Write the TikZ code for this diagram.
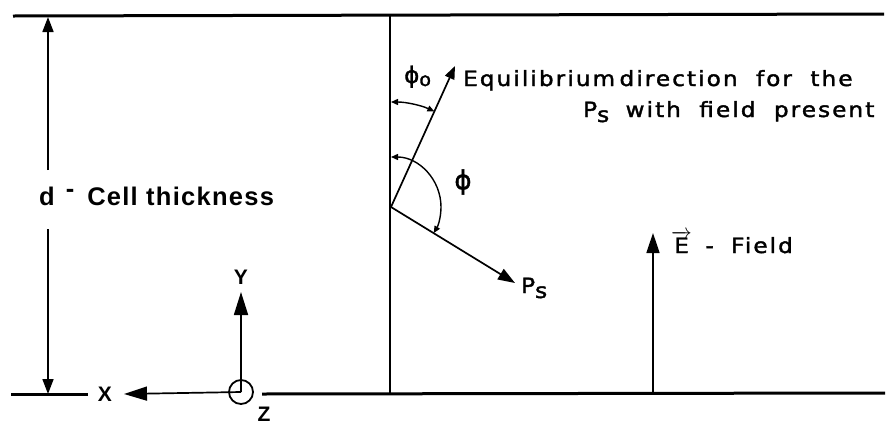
\documentclass[tikz,border=0pt]{standalone}
\usepackage{fontspec}
\setmainfont{Liberation Sans}
\newfontfamily\greekfont[FakeBold=1.5]{DejaVu Sans}
\newfontfamily\boldspaced[LetterSpace=5]{Liberation Sans Bold}
\newfontfamily\letterfont[LetterSpace=10,FakeStretch=1.1,FakeBold=1.8]{DejaVu Sans}
\usetikzlibrary{arrows.meta,calc}
\newcommand{\subs}{\raisebox{-5pt}{s}}
\begin{document}
\begin{tikzpicture}[x=1pt,y=-1pt,
  plate/.style={line width=3pt},
  thinln/.style={line width=1.7pt},
  axtip/.style={-{Triangle[length=23pt,width=14pt]}},
  eqtip/.style={-{Triangle[length=13pt,width=10pt]}},
  pstip/.style={-{Triangle[length=17pt,width=12pt]}},
  etip/.style={-{Triangle[length=20pt,width=13pt]}},
  dimtip/.style={-{Triangle[length=15pt,width=11pt]}},
  arctip/.style={{Triangle[length=7pt,width=6pt]}-{Triangle[length=7pt,width=6pt]}},
  boldlbl/.style={inner sep=0pt,font=\fontsize{25.5}{29}\selectfont\boldspaced},
  axlbl/.style={inner sep=0pt,font=\fontsize{21}{25}\selectfont\bfseries},
  letterlbl/.style={inner sep=0pt,anchor=base west,font=\fontsize{21}{25}\selectfont\letterfont},
  greeklbl/.style={inner sep=0pt,font=\fontsize{23}{27}\selectfont\greekfont}]
\useasboundingbox (0,0) rectangle (895,424);
% plates
\coordinate (tl) at (13,16);
\coordinate (tr) at (884,14);
\draw[plate] (tl) -- (tr);
\coordinate (bl) at (11,394);
\coordinate (blend) at (88,394);
\coordinate (brs) at (262,394);
\coordinate (br) at (885,393);
\draw[plate] (bl) -- (blend);
\draw[plate] (brs) -- (br);
% vertical reference line
\coordinate (vtop) at (390,16);
\coordinate (vbot) at (390,394);
\draw[thinln] (vtop) -- (vbot);
% dimension
\node[boldlbl,anchor=base west] (dlab) at (39,205) {d\kern11pt\raisebox{0.3em}{-}\kern13pt Cell thickness};
\coordinate (dt) at (48,17);
\coordinate (dtb) at (48,170);
\coordinate (db) at (48,394);
\coordinate (dbb) at (48,229);
\draw[thinln,dimtip] (dtb) -- (dt);
\draw[thinln,dimtip] (dbb) -- (db);
% axes
\node[draw,circle,line width=1.8pt,minimum size=24pt,inner sep=0pt] (zc) at (241,392) {};
\coordinate (xt) at (124,394);
\coordinate (yt) at (241,292);
\draw[thinln,axtip] (zc.center) -- (xt);
\draw[thinln,axtip] (zc.center) -- (yt);
\node[axlbl] (xl) at (105,394) {X};
\node[axlbl] (yl) at (241,277) {Y};
\node[axlbl] (zl) at (264,414) {Z};
% vectors
\coordinate (o) at (391,207);
\coordinate (eq) at (455,66);
\coordinate (ps) at (515,283);
\draw[thinln,eqtip] (o) -- (eq);
\draw[thinln,pstip] (o) -- (ps);
% angle arcs
\draw[line width=1.4pt,arctip] ($(o)+(-90:105)$) arc[start angle=-90,end angle=-65.6,radius=105];
\draw[line width=1.4pt,arctip] ($(o)+(-90:50)$) arc[start angle=-90,end angle=31.4,radius=50];
\node[greeklbl,anchor=base west] (phio) at (404,83) {ϕ\raisebox{-3pt}{\fontsize{19}{22}\selectfont o}};
\node[greeklbl,font=\fontsize{26}{30}\selectfont\greekfont] (phi) at (463,182) {ϕ};
% labels
\node[letterlbl] (eqlab) at (463,86) {Equilibrium\kern-5pt\ direction\kern9pt\ for\kern9pt\ the};
\node[letterlbl] (eqlab2) at (583,117) {P\subs\kern7pt\ with\kern9pt\ field\kern9pt\ present};
\node[letterlbl] (pslab) at (521,293) {P\subs};
% E field
\coordinate (eb) at (653,394);
\coordinate (et) at (653,233);
\draw[thinln,etip] (eb) -- (et);
\node[letterlbl] (elab) at (671,253) {$\overrightarrow{\mbox{\letterfont E}}$\kern4pt\ -\kern8pt\ Field};
\end{tikzpicture}
\end{document}
